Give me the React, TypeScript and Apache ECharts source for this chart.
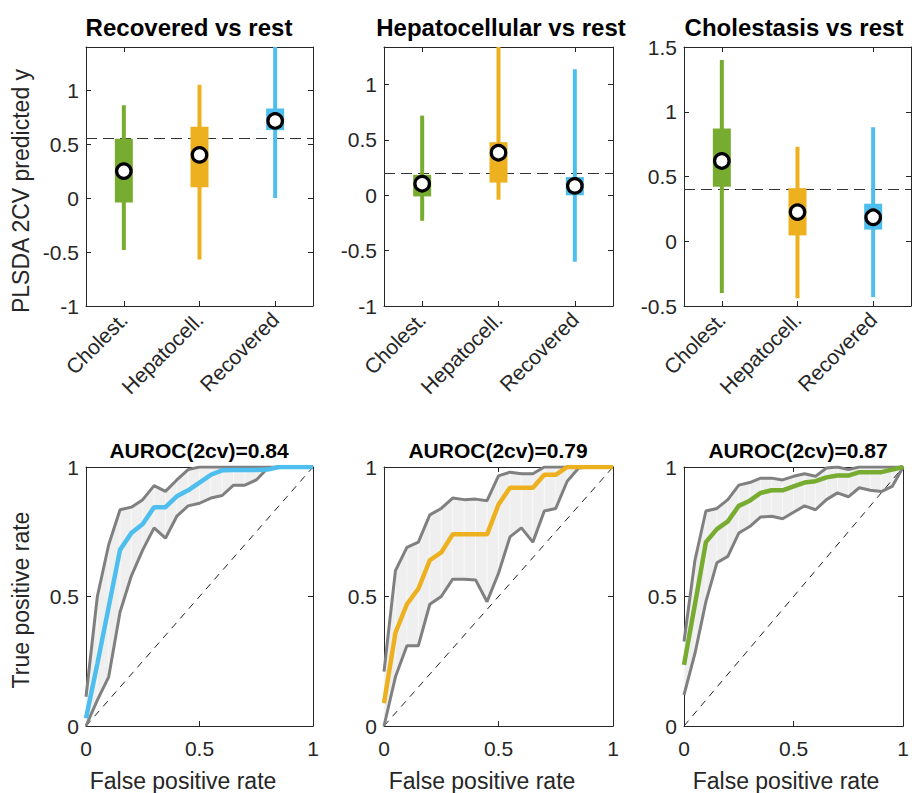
import React, { useEffect, useRef } from 'react';
import * as echarts from 'echarts';

// ---------- data ----------
const CATEGORIES = ['Cholest.', 'Hepatocell.', 'Recovered'];
const BOX_TITLES = ['Recovered vs rest', 'Hepatocellular vs rest', 'Cholestasis vs rest'];
const ROC_TITLES = ['AUROC(2cv)=0.84', 'AUROC(2cv)=0.79', 'AUROC(2cv)=0.87'];

// [low whisker, high whisker] per category
const RECOVERED_WHISKER = [[-0.48, 0.86], [-0.57, 1.05], [0.0, 1.4]];
const RECOVERED_BOX = [[-0.04, 0.55], [0.1, 0.66], [0.63, 0.83]];
const RECOVERED_MEDIAN = [0.25, 0.4, 0.715];
const RECOVERED_THRESHOLD = 0.55;

const HEPATO_WHISKER = [[-0.23, 0.72], [-0.04, 1.34], [-0.6, 1.14]];
const HEPATO_BOX = [[-0.01, 0.185], [0.115, 0.48], [0.0, 0.165]];
const HEPATO_MEDIAN = [0.105, 0.385, 0.085];
const HEPATO_THRESHOLD = 0.2;

const CHOL_WHISKER = [[-0.4, 1.4], [-0.44, 0.73], [-0.43, 0.88]];
const CHOL_BOX = [[0.42, 0.87], [0.045, 0.41], [0.09, 0.29]];
const CHOL_MEDIAN = [0.62, 0.225, 0.185];
const CHOL_THRESHOLD = 0.4;

const BOX_Y_MIN = [-1, -1, -0.5];
const BOX_Y_MAX = [1.4, 1.34, 1.5];

const FPR = [0, 0.05, 0.1, 0.15, 0.2, 0.25, 0.3, 0.35, 0.4, 0.45, 0.5, 0.55, 0.6, 0.65, 0.7, 0.75, 0.8, 0.85, 0.9, 0.95, 1];

const REC_MEAN = [0.03, 0.24, 0.46, 0.68, 0.745, 0.78, 0.845, 0.845, 0.887, 0.91, 0.94, 0.97, 0.987, 0.988, 0.988, 0.988, 0.99, 1, 1, 1, 1];
const REC_UPPER = [0.113, 0.5, 0.7, 0.835, 0.845, 0.874, 0.928, 0.906, 0.95, 0.99, 1, 1, 1, 1, 1, 1, 1, 1, 1, 1, 1];
const REC_LOWER = [0, 0.1, 0.19, 0.44, 0.58, 0.68, 0.765, 0.725, 0.81, 0.85, 0.86, 0.88, 0.89, 0.93, 0.93, 0.95, 0.995, 1, 1, 1, 1];

const HEP_MEAN = [0.088, 0.36, 0.47, 0.53, 0.64, 0.67, 0.74, 0.74, 0.74, 0.74, 0.855, 0.92, 0.92, 0.92, 0.97, 0.97, 1, 1, 1, 1, 1];
const HEP_UPPER = [0.21, 0.6, 0.69, 0.71, 0.815, 0.84, 0.88, 0.874, 0.876, 0.87, 0.966, 0.98, 0.974, 0.974, 1, 1, 1, 1, 1, 1, 1];
const HEP_LOWER = [0, 0.19, 0.31, 0.31, 0.47, 0.5, 0.567, 0.567, 0.564, 0.48, 0.59, 0.73, 0.765, 0.71, 0.83, 0.84, 0.945, 0.996, 1, 1, 1];

const CHO_MEAN = [0.236, 0.47, 0.71, 0.76, 0.79, 0.85, 0.87, 0.9, 0.91, 0.91, 0.925, 0.94, 0.945, 0.96, 0.967, 0.967, 0.98, 0.98, 0.98, 0.99, 1];
const CHO_UPPER = [0.326, 0.64, 0.83, 0.84, 0.874, 0.93, 0.94, 0.957, 0.957, 0.95, 0.964, 0.974, 0.964, 0.996, 1, 0.99, 1, 1, 1, 1, 1];
const CHO_LOWER = [0.12, 0.28, 0.48, 0.63, 0.655, 0.745, 0.77, 0.807, 0.81, 0.8, 0.825, 0.85, 0.835, 0.874, 0.9, 0.885, 0.92, 0.91, 0.905, 0.925, 1];

// ---------- styles ----------
const COLORS = ['#77AC30', '#EDB120', '#4DBEEE'];
const ROC_COLORS = ['#4DBEEE', '#EDB120', '#77AC30'];
const AXIS_COLOR = '#262626';
const FONT = '"Liberation Sans", Arial, Helvetica, sans-serif';
const GRID_LEFT = [86, 384, 684];
const GRID_WIDTH = [227, 229, 227];
const TOP_ROW = 47;
const BOTTOM_ROW = 467;
const GRID_HEIGHT = 259;

export default function App() {
  const ref = useRef<HTMLDivElement>(null);

  useEffect(() => {
    if (!ref.current) return;
    const chart = echarts.init(ref.current, undefined, { renderer: 'svg' });

    const boxPanels = [
      { whisker: RECOVERED_WHISKER, box: RECOVERED_BOX, median: RECOVERED_MEDIAN, thr: RECOVERED_THRESHOLD },
      { whisker: HEPATO_WHISKER, box: HEPATO_BOX, median: HEPATO_MEDIAN, thr: HEPATO_THRESHOLD },
      { whisker: CHOL_WHISKER, box: CHOL_BOX, median: CHOL_MEDIAN, thr: CHOL_THRESHOLD },
    ];
    const rocPanels = [
      { mean: REC_MEAN, upper: REC_UPPER, lower: REC_LOWER },
      { mean: HEP_MEAN, upper: HEP_UPPER, lower: HEP_LOWER },
      { mean: CHO_MEAN, upper: CHO_UPPER, lower: CHO_LOWER },
    ];

    const grid: any[] = [];
    const xAxis: any[] = [];
    const yAxis: any[] = [];
    const series: any[] = [];
    const graphic: any[] = [];

    const axisLine = { show: true, onZero: false, lineStyle: { color: AXIS_COLOR, width: 1 } };
    const tick = { show: true, inside: true, length: 5, lineStyle: { color: AXIS_COLOR, width: 1 } };
    const label = { color: AXIS_COLOR, fontSize: 21, fontFamily: FONT };

    // top row: box plots
    boxPanels.forEach((p, i) => {
      grid.push({ left: GRID_LEFT[i], top: TOP_ROW, width: GRID_WIDTH[i], height: GRID_HEIGHT, show: true, backgroundColor: '#fff', borderWidth: 0 });
      const xi = xAxis.length;
      xAxis.push({
        type: 'category', gridIndex: i, data: CATEGORIES, position: 'bottom',
        axisLine, axisTick: { ...tick, alignWithLabel: true },
        axisLabel: { ...label, rotate: 45, margin: 10, interval: 0 }, splitLine: { show: false },
      });
      xAxis.push({
        type: 'category', gridIndex: i, data: CATEGORIES, position: 'top',
        axisLine, axisTick: { ...tick, alignWithLabel: true }, axisLabel: { show: false }, splitLine: { show: false },
      });
      const yi = yAxis.length;
      const yBase = {
        type: 'value', gridIndex: i, min: BOX_Y_MIN[i], max: BOX_Y_MAX[i], interval: 0.5,
        axisLine, axisTick: tick, splitLine: { show: false },
      };
      yAxis.push({
        ...yBase, position: 'left',
        axisLabel: {
          ...label, margin: 7, showMaxLabel: true,
          formatter: (v: number) => (Math.abs(v * 2 - Math.round(v * 2)) < 1e-6 ? String(Math.round(v * 2) / 2) : ''),
        },
      });
      yAxis.push({ ...yBase, position: 'right', axisLabel: { show: false } });

      const data = CATEGORIES.map((c, k) => [c, p.whisker[k][0], p.box[k][0], p.box[k][1], p.whisker[k][1]]);
      series.push({
        type: 'custom', xAxisIndex: xi, yAxisIndex: yi, z: 3,
        data,
        encode: { x: 0, y: [1, 2, 3, 4] },
        renderItem: (params: any, api: any) => {
          const x = api.value(0);
          const wl = api.coord([x, api.value(1)]);
          const bl = api.coord([x, api.value(2)]);
          const bh = api.coord([x, api.value(3)]);
          const wh = api.coord([x, api.value(4)]);
          const color = COLORS[params.dataIndex];
          return {
            type: 'group',
            children: [
              { type: 'rect', shape: { x: wl[0] - 2, y: wh[1], width: 4, height: wl[1] - wh[1] }, style: { fill: color } },
              { type: 'rect', shape: { x: bl[0] - 9, y: bh[1], width: 18, height: bl[1] - bh[1] }, style: { fill: color } },
            ],
          };
        },
        markLine: {
          z: 1, silent: true, symbol: 'none', label: { show: false },
          lineStyle: { color: '#333', width: 1, type: [11, 6] },
          data: [{ yAxis: p.thr }],
        },
      });
      series.push({
        type: 'scatter', xAxisIndex: xi, yAxisIndex: yi, z: 4,
        data: CATEGORIES.map((c, k) => [c, p.median[k]]),
        symbol: 'circle', symbolSize: 14.5,
        itemStyle: { color: '#fff', borderColor: '#000', borderWidth: 3.2, opacity: 1 },
      });

      graphic.push({
        type: 'text', x: [189, 501, 794][i], y: 27,
        style: { text: BOX_TITLES[i], fill: '#000', fontSize: 24, fontWeight: 'bold', fontFamily: FONT, textAlign: 'center', textVerticalAlign: 'middle' },
      });
    });

    // bottom row: ROC curves
    rocPanels.forEach((p, j) => {
      const gi = 3 + j;
      grid.push({ left: GRID_LEFT[j], top: BOTTOM_ROW, width: GRID_WIDTH[j], height: GRID_HEIGHT, show: true, backgroundColor: '#fff', borderWidth: 0 });
      const xi = xAxis.length;
      const xBase = { type: 'value', gridIndex: gi, min: 0, max: 1, interval: 0.5, axisLine, axisTick: tick, splitLine: { show: false } };
      xAxis.push({ ...xBase, position: 'bottom', axisLabel: { ...label, margin: 12 } });
      xAxis.push({ ...xBase, position: 'top', axisLabel: { show: false } });
      const yi = yAxis.length;
      const yBase = { type: 'value', gridIndex: gi, min: 0, max: 1, interval: 0.5, axisLine, axisTick: tick, splitLine: { show: false } };
      yAxis.push({ ...yBase, position: 'left', axisLabel: { ...label, margin: 7 } });
      yAxis.push({ ...yBase, position: 'right', axisLabel: { show: false } });

      // confidence band as quads between consecutive FPR points
      const bandData = FPR.slice(0, -1).map((x, k) => [x, p.lower[k], p.upper[k], FPR[k + 1], p.lower[k + 1], p.upper[k + 1]]);
      series.push({
        type: 'custom', xAxisIndex: xi, yAxisIndex: yi, z: 1, silent: true,
        data: bandData,
        encode: { x: [0, 3], y: [1, 2, 4, 5] },
        renderItem: (params: any, api: any) => {
          const a = api.coord([api.value(0), api.value(1)]);
          const b = api.coord([api.value(3), api.value(4)]);
          const c = api.coord([api.value(3), api.value(5)]);
          const d = api.coord([api.value(0), api.value(2)]);
          return {
            type: 'polygon',
            shape: { points: [a, b, c, d] },
            style: { fill: '#efefef', stroke: '#fafafa', lineWidth: 0.6 },
          };
        },
      });
      series.push({
        type: 'line', xAxisIndex: xi, yAxisIndex: yi, symbol: 'none', silent: true, z: 2,
        lineStyle: { color: '#222', width: 1, type: [7, 6] },
        data: [[0, 0], [1, 1]],
      });
      [p.upper, p.lower].forEach((arr) => {
        series.push({
          type: 'line', xAxisIndex: xi, yAxisIndex: yi, symbol: 'none', silent: true, z: 3,
          lineStyle: { color: '#808080', width: 3 },
          data: FPR.map((x, k) => [x, arr[k]]),
        });
      });
      series.push({
        type: 'line', xAxisIndex: xi, yAxisIndex: yi, symbol: 'none', silent: true, z: 4,
        lineStyle: { color: ROC_COLORS[j], width: 4.5 },
        data: FPR.map((x, k) => [x, p.mean[k]]),
      });

      graphic.push({
        type: 'text', x: [199, 498, 798][j], y: 450,
        style: { text: ROC_TITLES[j], fill: '#000', fontSize: 21, fontWeight: 'bold', fontFamily: FONT, textAlign: 'center', textVerticalAlign: 'middle' },
      });
      graphic.push({
        type: 'text', x: [183, 482, 786][j], y: 781,
        style: { text: 'False positive rate', fill: AXIS_COLOR, fontSize: 23, fontFamily: FONT, textAlign: 'center', textVerticalAlign: 'middle' },
      });
    });

    graphic.push({
      type: 'text', x: 21, y: 191, rotation: Math.PI / 2,
      style: { text: 'PLSDA 2CV predicted y', fill: AXIS_COLOR, fontSize: 23, fontFamily: FONT, textAlign: 'center', textVerticalAlign: 'middle' },
    });
    graphic.push({
      type: 'text', x: 21, y: 600, rotation: Math.PI / 2,
      style: { text: 'True positive rate', fill: AXIS_COLOR, fontSize: 23, fontFamily: FONT, textAlign: 'center', textVerticalAlign: 'middle' },
    });

    chart.setOption({
      animation: false,
      backgroundColor: '#fff',
      textStyle: { fontFamily: FONT },
      grid, xAxis, yAxis, series, graphic,
    });

    return () => chart.dispose();
  }, []);

  return <div ref={ref} style={{ position: 'absolute', left: 0, top: 0, width: 912, height: 793 }} />;
}
